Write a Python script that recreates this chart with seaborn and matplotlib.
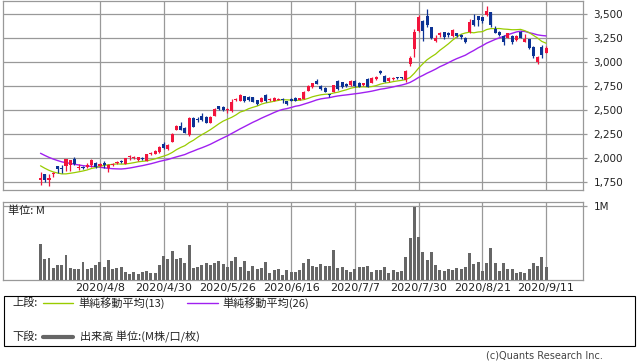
import numpy as np
import pandas as pd
import matplotlib
matplotlib.use("Agg")
import matplotlib.pyplot as plt
import seaborn as sns
from matplotlib.patches import Rectangle

# ---------------- data ----------------
opens = [1774, 1836, 1774, 1836, 1919, 1899, 1923, 1926, 1992, 1899,
         1906, 1913, 1930, 1951, 1920, 1951, 1902, 1930, 1947, 1971,
         1940, 2010, 2003, 1982, 2003, 1971, 2041, 2048, 2065, 2145,
         2096, 2172, 2297, 2335, 2315, 2245, 2419, 2410, 2443, 2429,
         2370, 2443, 2540, 2536, 2505, 2491, 2606, 2599, 2647, 2640,
         2633, 2606, 2588, 2658, 2606, 2599, 2609, 2616, 2595, 2620,
         2630, 2609, 2620, 2703, 2738, 2807, 2755, 2734, 2665, 2689,
         2803, 2789, 2776, 2762, 2803, 2786, 2762, 2824, 2786, 2821,
         2904, 2855, 2803, 2821, 2838, 2838, 2814, 2980, 3140, 3327,
         3427, 3483, 3368, 3219, 3285, 3309, 3306, 3271, 3299, 3285,
         3254, 3309, 3438, 3479, 3465, 3490, 3517, 3347, 3313, 3271,
         3254, 3271, 3229, 3309, 3212, 3236, 3160, 2997, 3160, 3098]
highs = [1857, 1836, 1836, 1857, 1919, 1930, 1992, 1985, 2010, 1940,
         1923, 1951, 1992, 1961, 1951, 1968, 1937, 1951, 1968, 1982,
         2003, 2034, 2020, 2017, 2010, 2045, 2065, 2086, 2127, 2165,
         2148, 2260, 2345, 2377, 2320, 2432, 2425, 2432, 2467, 2435,
         2440, 2519, 2545, 2545, 2519, 2613, 2630, 2672, 2651, 2644,
         2637, 2610, 2637, 2665, 2630, 2637, 2623, 2623, 2599, 2630,
         2637, 2630, 2696, 2762, 2786, 2824, 2762, 2740, 2672, 2766,
         2810, 2796, 2786, 2810, 2810, 2796, 2786, 2831, 2845, 2855,
         2918, 2862, 2845, 2848, 2848, 2848, 2918, 3063, 3341, 3490,
         3438, 3552, 3368, 3285, 3313, 3316, 3313, 3341, 3306, 3296,
         3264, 3445, 3500, 3483, 3472, 3587, 3524, 3379, 3320, 3278,
         3306, 3278, 3278, 3323, 3296, 3240, 3167, 3063, 3178, 3171]
lows = [1725, 1753, 1715, 1809, 1847, 1843, 1871, 1871, 1926, 1878,
        1885, 1899, 1913, 1899, 1910, 1899, 1857, 1920, 1937, 1947,
        1937, 1982, 1992, 1975, 1985, 1968, 2030, 2041, 2058, 2100,
        2090, 2165, 2290, 2290, 2260, 2231, 2320, 2374, 2390, 2365,
        2365, 2436, 2505, 2491, 2467, 2484, 2599, 2592, 2588, 2595,
        2580, 2550, 2580, 2588, 2592, 2592, 2602, 2571, 2550, 2592,
        2595, 2602, 2613, 2696, 2731, 2770, 2713, 2685, 2640, 2685,
        2710, 2730, 2737, 2755, 2744, 2737, 2755, 2737, 2779, 2814,
        2880, 2789, 2796, 2810, 2821, 2821, 2789, 2963, 3056, 3316,
        3223, 3368, 3240, 3212, 3264, 3237, 3264, 3264, 3264, 3237,
        3195, 3299, 3379, 3379, 3410, 3483, 3368, 3299, 3271, 3174,
        3247, 3188, 3223, 3247, 3205, 3136, 3039, 2977, 3046, 3091]
closes = [1795, 1774, 1795, 1845, 1892, 1892, 1992, 1982, 1937, 1910,
          1895, 1930, 1982, 1913, 1940, 1930, 1930, 1940, 1961, 1958,
          2000, 2017, 2010, 2010, 1995, 2041, 2051, 2079, 2120, 2107,
          2141, 2256, 2335, 2297, 2266, 2419, 2328, 2400, 2398, 2370,
          2432, 2512, 2512, 2498, 2512, 2588, 2620, 2658, 2595, 2606,
          2588, 2564, 2630, 2595, 2620, 2630, 2616, 2609, 2561, 2599,
          2599, 2623, 2692, 2755, 2779, 2776, 2720, 2689, 2655, 2762,
          2717, 2737, 2751, 2803, 2751, 2744, 2779, 2744, 2838, 2848,
          2890, 2796, 2838, 2838, 2831, 2831, 2907, 3039, 3310, 3473,
          3327, 3386, 3247, 3254, 3306, 3264, 3285, 3334, 3271, 3264,
          3212, 3417, 3389, 3438, 3427, 3531, 3385, 3306, 3278, 3212,
          3299, 3212, 3271, 3254, 3236, 3143, 3067, 3056, 3074, 3143]
# closes before the visible window (estimated, only used for moving averages)
pre_closes = [2350, 2330, 2300, 2280, 2250, 2220, 2180, 2150, 2120, 2080,
              2060, 2040, 2006, 2100, 2080, 2060, 2040, 2010, 1991, 1900,
              1850, 1800, 1780, 1790, 1784]
volumes_m = [0.486, 0.284, 0.297, 0.162, 0.203, 0.203, 0.338, 0.162, 0.149, 0.149,
             0.243, 0.149, 0.162, 0.203, 0.243, 0.176, 0.270, 0.149, 0.162, 0.176,
             0.108, 0.081, 0.108, 0.081, 0.108, 0.122, 0.095, 0.095, 0.203, 0.324,
             0.284, 0.392, 0.284, 0.297, 0.230, 0.473, 0.162, 0.176, 0.203, 0.230,
             0.203, 0.230, 0.257, 0.216, 0.176, 0.257, 0.311, 0.176, 0.257, 0.122,
             0.189, 0.149, 0.162, 0.243, 0.095, 0.135, 0.149, 0.068, 0.135,
             0.108, 0.108, 0.135, 0.230, 0.284, 0.189, 0.176, 0.216, 0.189, 0.189,
             0.405, 0.162, 0.176, 0.135, 0.108, 0.149, 0.176, 0.176, 0.189, 0.108,
             0.135, 0.135, 0.176, 0.095, 0.135, 0.108, 0.122, 0.311, 0.568, 0.991,
             0.581, 0.378, 0.270, 0.378, 0.203, 0.135, 0.122, 0.149, 0.135, 0.162,
             0.149, 0.176, 0.365, 0.216, 0.243, 0.122, 0.230, 0.432, 0.230, 0.122,
             0.230, 0.149, 0.149, 0.095, 0.108, 0.095, 0.149, 0.230, 0.189, 0.311,
             0.176]
date_tick_pos = [14, 29, 44, 59, 74, 89, 104, 119]
date_tick_labels = ["2020/4/8", "2020/4/30", "2020/5/26", "2020/6/16",
                    "2020/7/7", "2020/7/30", "2020/8/21", "2020/9/11"]
price_ticks = [1750, 2000, 2250, 2500, 2750, 3000, 3250, 3500]

# ---------------- style ----------------
RED = "#f2143c"
BLUE = "#0c3294"
GREEN = "#99cc00"
PURPLE = "#a020f0"
VOLC = "#666666"
GRID = "#999999"
TXT = "#222222"
JP = ["Noto Sans CJK JP", "DejaVu Sans"]

sns.set_style("white")
plt.rcParams["font.family"] = ["DejaVu Sans", "Noto Sans CJK JP"]

W, H = 638, 362
fig = plt.figure(figsize=(W / 100, H / 100), dpi=100)


def rect(l, t, r, b):
    return [l / W, 1 - b / H, (r - l) / W, (b - t) / H]


ax = fig.add_axes(rect(3, 1, 583, 190))
axv = fig.add_axes(rect(3, 202, 583, 280))
ov = fig.add_axes([0, 0, 1, 1])
ov.set_xlim(0, W)
ov.set_ylim(H, 0)
ov.axis("off")

n = len(closes)
x = np.arange(n)
o = np.array(opens, float)
c = np.array(closes, float)
hi = np.array(highs, float)
lo = np.array(lows, float)

allc = pd.Series(list(pre_closes) + list(closes), dtype=float)
ma13 = allc.rolling(13).mean().iloc[-n:].to_numpy()
ma26 = allc.rolling(26).mean().iloc[-n:].to_numpy()
df = pd.DataFrame({"x": x, "ma13": ma13, "ma26": ma26, "vol": volumes_m})

# moving averages
sns.lineplot(data=df, x="x", y="ma26", ax=ax, color=PURPLE, lw=1.0, zorder=2)
sns.lineplot(data=df, x="x", y="ma13", ax=ax, color=GREEN, lw=0.9, zorder=2)

# candles
cols = np.where(c >= o, RED, BLUE)
ax.vlines(x, lo, hi, colors=cols, lw=0.9, zorder=3)
body_b = np.minimum(o, c)
body_h = np.maximum(np.abs(c - o), 9)
ax.bar(x, body_h, bottom=body_b, width=0.72, color=cols, linewidth=0, zorder=4)

ax.set_xlim(-8.83, 127.7)
ax.set_ylim(1670, 3635)
ax.set_xticks(date_tick_pos)
ax.set_xticklabels([])
ax.tick_params(axis="x", length=0)
ax.yaxis.tick_right()
ax.set_yticks(price_ticks)
ax.set_yticklabels([f"{v:,}" for v in price_ticks])
ax.tick_params(axis="y", length=3, color=GRID, width=0.9, labelsize=7.5,
               pad=4.5, labelcolor=TXT)
ax.grid(True, color=GRID, lw=0.9)
ax.set_axisbelow(True)
ax.set_xlabel("")
ax.set_ylabel("")
for s in ax.spines.values():
    s.set_color(GRID)
    s.set_linewidth(0.9)

# volume
sns.barplot(data=df, x="x", y="vol", native_scale=True, ax=axv, color=VOLC,
            saturation=1, width=0.7, edgecolor="none", linewidth=0, zorder=3)
axv.set_xlim(-8.83, 127.7)
axv.set_ylim(0, 1.054)
axv.set_xticks(date_tick_pos)
axv.set_xticklabels(date_tick_labels)
axv.tick_params(axis="x", length=0, pad=2.5, labelsize=8, labelcolor=TXT)
axv.yaxis.tick_right()
axv.set_yticks([1.0])
axv.set_yticklabels(["1M"])
axv.tick_params(axis="y", length=3, color=GRID, width=0.9, labelsize=7.5,
                pad=4.5, labelcolor=TXT)
axv.grid(True, color=GRID, lw=0.9)
axv.set_axisbelow(True)
axv.set_xlabel("")
axv.set_ylabel("")
for s in axv.spines.values():
    s.set_color(GRID)
    s.set_linewidth(0.9)
axv.text(0.009, 0.89, "単位: M", transform=axv.transAxes, fontsize=8,
         family=JP, color=TXT, va="center", ha="left", zorder=5)

# legend box
ov.add_patch(Rectangle((3.5, 295.5), 631, 50, fill=False, ec="black", lw=0.8))
ov.text(12, 303, "上段:", family=JP, fontsize=8, va="center", color=TXT)
ov.plot([43, 73], [303, 303], color=GREEN, lw=1.0)
ov.text(78, 303, "単純移動平均(13)", family=JP, fontsize=8, va="center", color=TXT)
ov.plot([187, 218], [303, 303], color=PURPLE, lw=1.0)
ov.text(222, 303, "単純移動平均(26)", family=JP, fontsize=8, va="center", color=TXT)
ov.text(12, 337, "下段:", family=JP, fontsize=8, va="center", color=TXT)
ov.plot([43, 73], [337, 337], color=VOLC, lw=3)
ov.text(80, 337, "出来高 単位:(M株/口/枚)", family=JP, fontsize=8, va="center", color=TXT)
ov.text(603, 356, "(c)Quants Research Inc.", fontsize=7, ha="right", va="center",
        color="#444444")

fig.savefig("out.png", dpi=100)
